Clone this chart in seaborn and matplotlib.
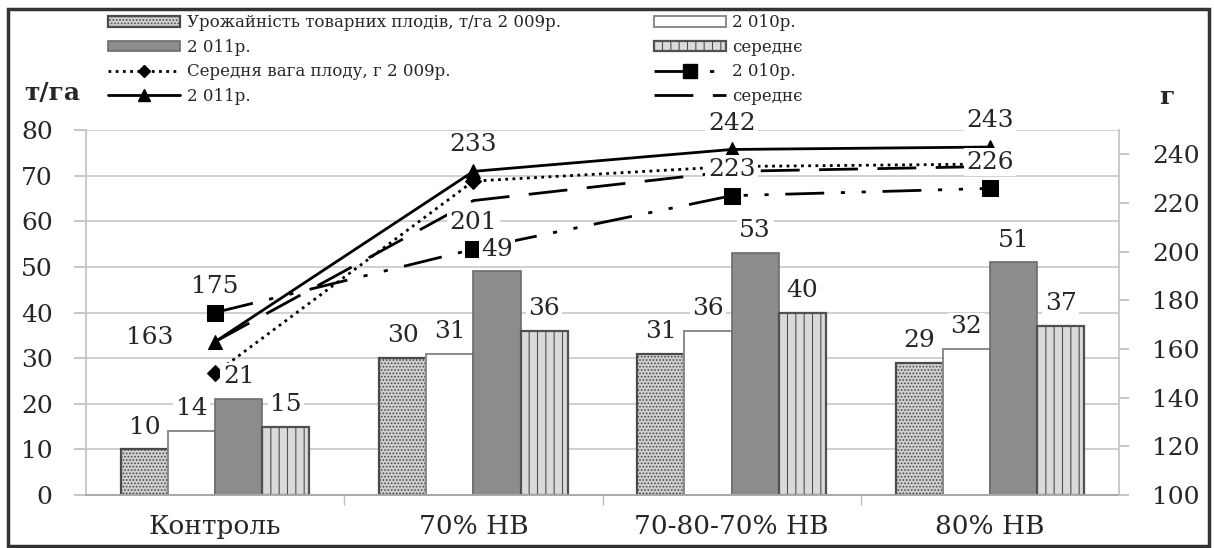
"""
Урожайність товарних плодів (т/га) і середня вага плоду (г) за роками
"""

import numpy as np
import pandas as pd
import seaborn as sns

from matplotlib import pyplot as plt
from matplotlib.patches import Patch, Rectangle
from matplotlib.lines import Line2D

sns.set_theme(style='white')
plt.rcParams['font.family'] = ['DejaVu Serif']
plt.rcParams['hatch.linewidth'] = 0.8

#------------------------------------------------------------------------------
# Data
#------------------------------------------------------------------------------
categories = ['Контроль', '70% НВ', '70-80-70% НВ', '80% НВ']
years = ['2009', '2010', '2011', 'mean']

# урожайність, т/га (ліва вісь)
yield_2009 = [10, 30, 31, 29]
yield_2010 = [14, 31, 36, 32]
yield_2011 = [21, 49, 53, 51]
yield_mean = [15, 36, 40, 37]

# середня вага плоду, г (права вісь)
weight_2009 = [150, 229, 235, 236]
weight_2010 = [175, 201, 223, 226]
weight_2011 = [163, 233, 242, 243]
weight_mean = [163, 221, 233, 235]

bar_series = [yield_2009, yield_2010, yield_2011, yield_mean]

df = pd.DataFrame({
    'category': categories * 4,
    'year': np.repeat(years, len(categories)),
    'value': np.concatenate(bar_series),
})

W, H = 1214, 548

#------------------------------------------------------------------------------
# Plot figure
#------------------------------------------------------------------------------
fig, ax = plt.subplots(figsize=(W / 100, H / 100), dpi=100)
fig.subplots_adjust(left=86 / W, right=1119 / W, bottom=1 - 495 / H, top=1 - 130 / H)

bar_styles = [
    dict(fc='#d0d0d0', ec='#4a4a4a', hatch='.....', lw=1.6),
    dict(fc='white', ec='#8a8a8a', hatch='', lw=1.4),
    dict(fc='#8c8c8c', ec='#6c6c6c', hatch='', lw=1.2),
    dict(fc='#dadada', ec='#505050', hatch='||', lw=1.6),
]

sns.barplot(data=df, x='category', y='value', hue='year', hue_order=years,
            palette=[s['fc'] for s in bar_styles], saturation=1, width=0.73,
            legend=False, ax=ax)

for cont, st in zip(ax.containers, bar_styles):
    for p in cont:
        p.set_facecolor(st['fc'])
        p.set_edgecolor(st['ec'])
        p.set_hatch(st['hatch'])
        p.set_linewidth(st['lw'])

ax.set_ylim(0, 80)
ax.set_yticks(range(0, 81, 10))
ax.set_xlim(-0.5, 3.5)
ax.set_xlabel('')
ax.set_ylabel('')
ax.set_axisbelow(True)
ax.yaxis.grid(True, color='#c8c8c8', lw=1.2)
ax.spines['top'].set_visible(False)
ax.spines['right'].set_visible(False)
ax.spines['left'].set_color('#c4c4c4')
ax.spines['bottom'].set_color('#a8a8a8')
ax.spines['bottom'].set_linewidth(1.4)
ax.tick_params(axis='y', left=True, direction='out', length=9, width=1.2,
               color='#bdbdbd', pad=15, labelsize=18)
ax.tick_params(axis='x', length=0, pad=14, labelsize=19)
ax.set_xticks([0.5, 1.5, 2.5], minor=True)
ax.tick_params(axis='x', which='minor', bottom=True, direction='out', length=7, color='#bdbdbd')

# lines on the right axis
ax2 = ax.twinx()
line_styles = [
    dict(y=weight_2009, ls=(0, (1, 1.6)), marker='D', ms=8),
    dict(y=weight_2010, ls=(0, (14, 6, 1.5, 6, 1.5, 6)), marker='s', ms=12),
    dict(y=weight_2011, ls='-', marker='^', ms=10),
    dict(y=weight_mean, ls=(0, (14, 7)), marker=None, ms=0),
]
for st in line_styles:
    sns.lineplot(x=categories, y=st['y'], ax=ax2, sort=False, color='black',
                 lw=2, linestyle=st['ls'], marker=st['marker'], markersize=st['ms'],
                 markeredgecolor='black')

ax2.set_ylim(100, 250)
ax2.set_yticks(range(100, 241, 20))
ax2.set_ylabel('')
for s in ['top', 'left', 'bottom']:
    ax2.spines[s].set_visible(False)
ax2.spines['right'].set_color('#c4c4c4')
ax2.tick_params(axis='y', right=True, direction='out', length=7, width=1.2,
                color='#bdbdbd', pad=17, labelsize=18)

box = dict(boxstyle='square,pad=0.1', fc='white', ec='none')

# bar labels
for cont, vals in zip(ax.containers, bar_series):
    for p, v in zip(cont, vals):
        ax2.annotate(f'{v}', xy=(p.get_x() + p.get_width() / 2, p.get_height()),
                     xycoords=ax.transData, xytext=(0, 16), textcoords='offset points',
                     ha='center', va='center', fontsize=18, bbox=box, zorder=5)

# line labels (2010, 2011)
for line, vals in zip([ax2.lines[1], ax2.lines[2]], [weight_2010, weight_2011]):
    for i, (x, v) in enumerate(zip(line.get_xdata(), vals)):
        if vals is weight_2011 and i == 0:
            off, ha = (-30, 3), 'right'
        else:
            off, ha = (0, 19), 'center'
        ax2.annotate(f'{v}', xy=(x, v), xytext=off, textcoords='offset points',
                     ha=ha, va='center', fontsize=18, bbox=box, zorder=6)

#------------------------------------------------------------------------------
# Legend, axis titles, frame
#------------------------------------------------------------------------------
def bar_handle(st):
    return Patch(facecolor=st['fc'], edgecolor=st['ec'], hatch=st['hatch'], lw=st['lw'])

def line_handle(st):
    return Line2D([], [], color='black', lw=2, linestyle=st['ls'],
                  marker=st['marker'], markersize=st['ms'] * 0.8)

handles = [bar_handle(bar_styles[0]), bar_handle(bar_styles[2]),
           line_handle(line_styles[0]), line_handle(line_styles[2]),
           bar_handle(bar_styles[1]), bar_handle(bar_styles[3]),
           line_handle(line_styles[1]), line_handle(line_styles[3])]
labels = ['Урожайність товарних плодів, т/га 2 009р.', '2 011р.',
          'Середня вага плоду, г 2 009р.', '2 011р.',
          '2 010р.', 'середнє', '2 010р.', 'середнє']

fig.legend(handles, labels, loc='upper left', bbox_to_anchor=(100 / W, 1 - 6 / H),
           ncol=2, frameon=False, fontsize=12, handlelength=4.3, handleheight=0.6,
           handletextpad=0.4, labelspacing=0.45, columnspacing=5.6, borderpad=0)

fig.text(52 / W, 1 - 93 / H, 'т/га', ha='center', va='center', fontsize=18, fontweight='bold')
fig.text(1167 / W, 1 - 97 / H, 'г', ha='center', va='center', fontsize=18, fontweight='bold')

fig.add_artist(Rectangle((8 / W, 1 - 546 / H), (1209 - 8) / W, (546 - 9) / H,
                         transform=fig.transFigure, fill=False, ec='#333333', lw=2.5))

#------------------------------------------------------------------------------
# Save figure
#------------------------------------------------------------------------------
fig.savefig('out.png', dpi=100)
